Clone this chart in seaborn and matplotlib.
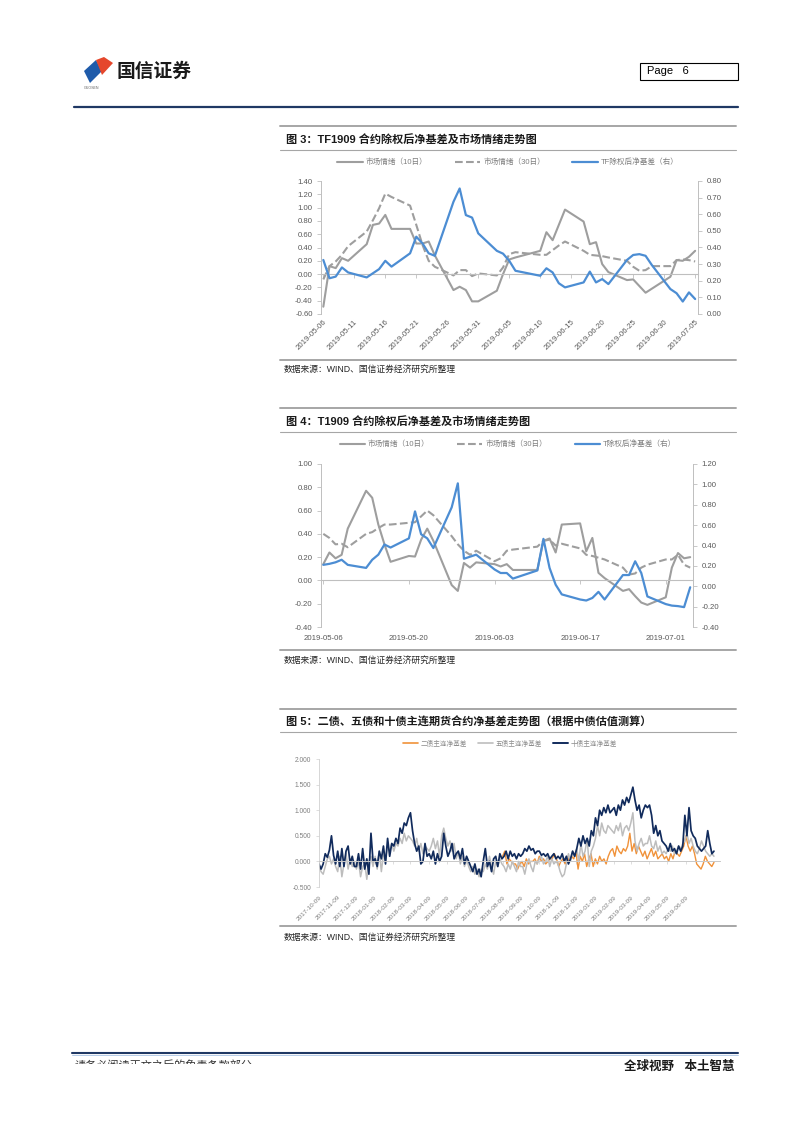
import numpy as np
import pandas as pd
import matplotlib
matplotlib.use("Agg")
import matplotlib.pyplot as plt
import matplotlib.dates as mdates
from matplotlib.lines import Line2D
from matplotlib.patches import Polygon, Rectangle
from matplotlib.ticker import FormatStrFormatter
from matplotlib.transforms import Bbox
import seaborn as sns


# ═══════════════════════════════════════════════════════════════════════
# Data
# ═══════════════════════════════════════════════════════════════════════

trade_dates = [
    "2019-05-06", "2019-05-07", "2019-05-08", "2019-05-09", "2019-05-10",
    "2019-05-13", "2019-05-14", "2019-05-15", "2019-05-16", "2019-05-17",
    "2019-05-20", "2019-05-21", "2019-05-22", "2019-05-23", "2019-05-24",
    "2019-05-27", "2019-05-28", "2019-05-29", "2019-05-30", "2019-05-31",
    "2019-06-03", "2019-06-04", "2019-06-05", "2019-06-06",
    "2019-06-10", "2019-06-11", "2019-06-12", "2019-06-13", "2019-06-14",
    "2019-06-17", "2019-06-18", "2019-06-19", "2019-06-20", "2019-06-21",
    "2019-06-24", "2019-06-25", "2019-06-26", "2019-06-27", "2019-06-28",
    "2019-07-01", "2019-07-02", "2019-07-03", "2019-07-04", "2019-07-05",
]

# Fig 3: TF1909
tf_mood10 = [
    -0.49, 0.12, 0.09, 0.24, 0.20,
    0.45, 0.74, 0.76, 0.89, 0.68,
    0.68, 0.46, 0.46, 0.49, 0.28,
    -0.24, -0.19, -0.24, -0.41, -0.41,
    -0.25, 0.00, 0.22, 0.25,
    0.35, 0.63, 0.51, 0.74, 0.97,
    0.79, 0.45, 0.48, 0.15, 0.03,
    -0.09, -0.08, -0.18, -0.28, -0.22,
    -0.04, 0.21, 0.20, 0.26, 0.35,
]
tf_mood30 = [
    -0.08, 0.12, 0.19, 0.29, 0.42,
    0.64, 0.81, 0.99, 1.21, 1.16,
    1.03, 0.74, 0.44, 0.20, 0.11,
    -0.02, 0.06, 0.06, -0.03, 0.01,
    -0.02, 0.10, 0.30, 0.33,
    0.29, 0.29, 0.36, 0.43, 0.49,
    0.35, 0.29, 0.28, 0.27, 0.25,
    0.20, 0.11, 0.05, 0.06, 0.12,
    0.12, 0.21, 0.22, 0.21, 0.19,
]
tf_basis = [
    0.325, 0.215, 0.225, 0.28, 0.25,
    0.22, 0.245, 0.27, 0.32, 0.285,
    0.365, 0.465, 0.425, 0.365, 0.35,
    0.675, 0.755, 0.595, 0.58, 0.485,
    0.38, 0.363, 0.32, 0.26,
    0.23, 0.275, 0.25, 0.185, 0.16,
    0.19, 0.255, 0.19, 0.21, 0.18,
    0.325, 0.355, 0.36, 0.35, 0.295,
    0.15, 0.125, 0.075, 0.13, 0.09,
]

# Fig 4: T1909
t_mood10 = [
    0.14, 0.24, 0.19, 0.22, 0.445,
    0.77, 0.71, 0.48, 0.31, 0.16,
    0.21, 0.205, 0.35, 0.445, 0.34,
    -0.04, -0.09, 0.15, 0.11, 0.155,
    0.14, 0.12, 0.14, 0.09,
    0.09, 0.34, 0.36, 0.24, 0.48,
    0.49, 0.25, 0.365, 0.065, 0.02,
    -0.09, -0.075, -0.135, -0.19, -0.21,
    -0.145, 0.11, 0.235, 0.19, 0.20,
]
t_mood30 = [
    0.40, 0.365, 0.31, 0.315, 0.285,
    0.40, 0.415, 0.45, 0.48, 0.48,
    0.495, 0.50, 0.55, 0.60, 0.56,
    0.38, 0.31, 0.255, 0.22, 0.255,
    0.165, 0.19, 0.255, 0.265,
    0.29, 0.34, 0.35, 0.30, 0.315,
    0.275, 0.22, 0.21, 0.195, 0.18,
    0.11, 0.05, 0.06, 0.11, 0.135,
    0.18, 0.18, 0.22, 0.135, 0.11,
]
t_basis = [
    0.21, 0.22, 0.235, 0.26, 0.21,
    0.18, 0.26, 0.31, 0.41, 0.38,
    0.47, 0.735, 0.51, 0.47, 0.375,
    0.775, 1.01, 0.27, 0.29, 0.31,
    0.165, 0.13, 0.13, 0.075,
    0.155, 0.465, 0.18, 0.015, -0.08,
    -0.13, -0.14, -0.115, -0.055, -0.13,
    0.11, 0.11, 0.245, 0.13, -0.10,
    -0.175, -0.19, -0.195, -0.205, -0.01,
]

# Fig 5: main-contract net basis, roughly two readings a week
ten_year_basis = [
    -0.05, -0.15, -0.05, 0.15, 0.08, 0.22, 0.50, 0.12, -0.05,   # 2017-10
    0.20, -0.10, 0.25, -0.10, 0.20, 0.30, -0.05, 0.10, -0.10,   # 2017-11
    -0.10, 0.15, -0.15, 0.25, -0.15, 0.05, -0.25, 0.55, 0.00,   # 2017-12
    0.05, -0.10, 0.20, 0.05, 0.30, -0.05, 0.45, 0.10, 0.35,     # 2018-01
    0.30, 0.45, 0.35, 0.65, 0.55, 0.75, 0.70, 0.85, 0.95,       # 2018-02
    0.60, 0.35, 0.20, 0.30, -0.05, 0.00, 0.35, 0.10, 0.15,      # 2018-03
    0.05, 0.20, -0.05, 0.15, 0.00, 0.10, 0.55, 0.30, 0.10,      # 2018-04
    0.20, 0.35, 0.05, 0.15, 0.20, 0.05, 0.25, -0.05, 0.10,      # 2018-05
    0.00, -0.10, -0.20, -0.05, -0.25, -0.15, -0.30, 0.00,       # 2018-06
    0.25, -0.10, 0.00, -0.20, 0.05, 0.10, -0.10, 0.15, 0.05,    # 2018-07
    0.10, 0.20, 0.05, 0.20, 0.10, 0.15, 0.05, 0.15, 0.10,       # 2018-08
    0.15, 0.25, 0.20, 0.30, 0.22, 0.25, 0.15, 0.20,             # 2018-09
    0.20, 0.12, 0.15, 0.10, 0.15, 0.05, 0.10, 0.15, 0.05,       # 2018-10
    0.10, 0.05, 0.15, 0.00, 0.10, -0.05, 0.05, 0.20, 0.10,      # 2018-11
    0.25, 0.45, 0.30, 0.50, 0.35, 0.45, 0.30, 0.60, 0.50,       # 2018-12
    0.85, 0.70, 1.00, 0.90, 1.05, 0.95, 1.10, 0.95, 1.00,       # 2019-01
    1.05, 0.90, 1.10, 1.00, 1.20, 1.10, 1.25, 1.15,             # 2019-02
    1.30, 1.45, 1.20, 1.00, 1.10, 0.85, 1.00, 1.10,             # 2019-03
    1.05, 1.10, 0.90, 0.55, 0.70, 0.50, 0.60, 0.40, 0.35,       # 2019-04
    0.30, 0.20, 0.35, 0.20, 0.25, 0.15, 0.30, 0.20, 0.30,       # 2019-05
    0.90, 0.50, 1.05, 0.60, 0.50, 0.45, 0.30, 0.25,             # 2019-06
    0.20, 0.25, 0.30, 0.60, 0.35, 0.15, 0.20,                   # 2019-07
]
five_year_basis = [
    -0.10, -0.20, -0.25, -0.10, 0.05, 0.10, -0.05, 0.05, -0.10,  # 2017-10
    -0.20, 0.10, -0.30, -0.05, 0.15, -0.15, 0.05, -0.10, 0.00,   # 2017-11
    -0.15, 0.00, -0.30, -0.10, -0.05, -0.35, 0.00, 0.10, -0.10,  # 2017-12
    0.10, -0.15, 0.20, -0.20, 0.15, 0.05, 0.30, 0.20, 0.35,      # 2018-01
    0.20, 0.35, 0.30, 0.45, 0.35, 0.55, 0.40, 0.50, 0.45,        # 2018-02
    0.40, 0.30, 0.45, 0.20, 0.35, 0.15, 0.30, 0.25, 0.20,        # 2018-03
    0.30, 0.45, 0.25, 0.40, 0.10, 0.50, 0.65, 0.45, 0.30,        # 2018-04
    0.40, 0.20, 0.35, 0.05, 0.20, -0.05, 0.10, -0.10, 0.05,      # 2018-05
    -0.10, -0.20, -0.10, -0.25, -0.15, -0.30, -0.15, -0.20,      # 2018-06
    -0.05, -0.15, 0.10, -0.10, -0.25, 0.00, -0.10, 0.05, -0.05,  # 2018-07
    -0.10, -0.20, -0.05, -0.15, 0.00, -0.10, -0.20, 0.00, -0.10, # 2018-08
    -0.10, -0.25, -0.05, 0.05, -0.10, -0.20, 0.00, -0.05,        # 2018-09
    0.05, 0.10, -0.05, 0.00, 0.10, -0.10, 0.05, -0.05, 0.00,     # 2018-10
    -0.05, -0.20, -0.30, -0.25, -0.05, 0.15, 0.00, 0.20, 0.10,   # 2018-11
    0.25, 0.00, 0.35, 0.10, 0.20, 0.45, -0.10, 0.20, 0.30,       # 2018-12
    0.45, 0.70, 0.50, 0.75, 0.60, 0.55, 0.70, 0.65, 0.60,        # 2019-01
    0.55, 0.70, 0.60, 0.75, 0.50, 0.65, 0.70, 0.60,              # 2019-02
    0.75, 0.95, 0.40, 0.20, 0.35, 0.45, 0.30, 0.35,              # 2019-03
    0.35, 0.50, 0.30, 0.25, 0.40, 0.20, 0.30, 0.15, 0.20,        # 2019-04
    0.15, 0.25, 0.20, 0.30, 0.15, 0.20, 0.30, 0.25, 0.35,        # 2019-05
    0.40, 0.55, 0.35, 0.45, 0.30, 0.20, 0.15, 0.25,              # 2019-06
    0.40, 0.30, 0.20, 0.15, 0.10, 0.15, 0.10,                    # 2019-07
]
two_year_basis = [
    0.10, 0.20, -0.05, 0.05, 0.00, -0.05,                        # 2018-08
    -0.05, -0.15, -0.05, 0.00, -0.10, 0.05, -0.05, 0.00,         # 2018-09
    0.00, 0.05, -0.05, 0.10, 0.00, 0.05, -0.05, 0.00, 0.05,      # 2018-10
    0.05, 0.15, 0.05, -0.10, 0.00, 0.05, -0.05, 0.10, 0.00,      # 2018-11
    0.10, 0.05, 0.20, -0.15, 0.10, 0.00, 0.15, -0.10, 0.05,      # 2018-12
    0.15, -0.10, 0.05, -0.05, 0.10, 0.00, 0.05, -0.05, 0.10,     # 2019-01
    0.20, 0.25, 0.10, 0.30, 0.20, 0.15, 0.25, 0.20,              # 2019-02
    0.30, 0.55, 0.20, 0.35, 0.15, 0.30, 0.20, 0.10,              # 2019-03
    0.20, 0.05, 0.15, 0.25, 0.10, 0.20, 0.05, 0.10, 0.15,        # 2019-04
    0.05, 0.10, 0.00, 0.15, 0.05, 0.20, 0.15, 0.10, 0.20,        # 2019-05
    0.30, 0.50, 0.30, 0.20, 0.30, 0.15, -0.05, -0.10,            # 2019-06
    -0.15, -0.05, 0.10, 0.00, -0.05, -0.10, -0.02,               # 2019-07
]

labels3 = ["市场情绪（10日）", "市场情绪（30日）", "TF除权后净基差（右）"]
labels4 = ["市场情绪（10日）", "市场情绪（30日）", "T除权后净基差（右）"]
labels5 = ["二债主连净基差", "五债主连净基差", "十债主连净基差"]

title3 = "图 3：TF1909 合约除权后净基差及市场情绪走势图"
title4 = "图 4：T1909 合约除权后净基差及市场情绪走势图"
title5 = "图 5：二债、五债和十债主连期货合约净基差走势图（根据中债估值测算）"
source = "数据来源：WIND、国信证券经济研究所整理"


# ═══════════════════════════════════════════════════════════════════════
# Style
# ═══════════════════════════════════════════════════════════════════════

sns.set_style("white")
plt.rcParams["font.family"] = ["Liberation Sans", "Noto Sans CJK SC"]
plt.rcParams["axes.unicode_minus"] = False

GRAY = "#9E9E9E"
BLUE = "#4C8DD3"
ORANGE = "#F0923A"
LGRAY = "#BDBDBD"
NAVY = "#112B5C"
SPINE = "#BFBFBF"
TICK_TXT = "#595959"
RULE = "#A6A6A6"

W, H = 802, 1133


def fx(x):
    return x / W


def fy(y):
    return 1 - y / H


def rect(left, top, right, bottom):
    return [left / W, 1 - bottom / H, (right - left) / W, (bottom - top) / H]


def hline(fig, y, x0, x1, color, lw):
    fig.add_artist(Line2D([fx(x0), fx(x1)], [fy(y), fy(y)],
                          transform=fig.transFigure, color=color, lw=lw))


def chart_frame(fig, top, title_y, rule_y, bottom, source_y, title):
    hline(fig, top, 280, 736, RULE, 1.4)
    fig.text(fx(286), fy(title_y), title, fontsize=8, fontweight="bold",
             va="center", color="#1A1A1A")
    hline(fig, rule_y, 280, 736, RULE, 0.8)
    hline(fig, bottom, 280, 736, RULE, 1.4)
    fig.text(fx(284), fy(source_y), source, fontsize=6.3, va="center",
             color="#262626")


def style_dual(ax, axr, xpad):
    for s in ["top", "right"]:
        ax.spines[s].set_visible(False)
    ax.spines["left"].set_color(SPINE)
    ax.spines["left"].set_linewidth(0.7)
    ax.spines["bottom"].set_position(("data", 0))
    ax.spines["bottom"].set_color(SPINE)
    ax.spines["bottom"].set_linewidth(0.8)
    for s in ["top", "left", "bottom"]:
        axr.spines[s].set_visible(False)
    axr.spines["right"].set_color(SPINE)
    axr.spines["right"].set_linewidth(0.7)
    ax.tick_params(axis="y", direction="out", length=3, width=0.6, color=SPINE,
                   labelsize=5.6, labelcolor=TICK_TXT, pad=3, left=True)
    axr.tick_params(axis="y", direction="out", length=3, width=0.6, color=SPINE,
                    labelsize=5.6, labelcolor=TICK_TXT, pad=3, right=True)
    ax.tick_params(axis="x", direction="out", length=3, width=0.6, color=SPINE,
                   labelsize=5.6, labelcolor=TICK_TXT, pad=xpad, bottom=True)
    ax.yaxis.set_major_formatter(FormatStrFormatter("%.2f"))
    axr.yaxis.set_major_formatter(FormatStrFormatter("%.2f"))
    ax.xaxis.set_major_formatter(mdates.DateFormatter("%Y-%m-%d"))
    ax.set(xlabel="", ylabel="")
    axr.set(xlabel="", ylabel="")
    ax.grid(False)
    axr.grid(False)


def dual_chart(fig, box, mood10, mood30, basis, ylim_l, ylim_r, ticks, xpad):
    dates = pd.to_datetime(trade_dates)
    ax = fig.add_axes(rect(*box))
    ax.patch.set_alpha(0)
    sns.lineplot(x=dates, y=mood10, ax=ax, color=GRAY, lw=1.5)
    sns.lineplot(x=dates, y=mood30, ax=ax, color=GRAY, lw=1.5, linestyle="--")
    axr = ax.twinx()
    sns.lineplot(x=dates, y=basis, ax=axr, color=BLUE, lw=1.6)
    ax.set_ylim(ylim_l[0], ylim_l[1])
    ax.set_yticks(np.round(np.arange(ylim_l[0], ylim_l[1] + 0.01, 0.2), 2))
    axr.set_ylim(ylim_r[0], ylim_r[1])
    axr.set_yticks(np.round(np.arange(ylim_r[0], ylim_r[1] + 0.01, ylim_r[2]), 2))
    ax.set_xlim(pd.Timestamp("2019-05-06") - pd.Timedelta(hours=9),
                pd.Timestamp("2019-07-05") + pd.Timedelta(hours=11))
    ax.set_xticks(ticks)
    style_dual(ax, axr, xpad)
    return ax, axr


def dual_legend(fig, labels, y):
    handles = [Line2D([], [], color=GRAY, lw=1.5),
               Line2D([], [], color=GRAY, lw=1.5, ls="--"),
               Line2D([], [], color=BLUE, lw=1.6)]
    fig.legend(handles, labels, loc="center", bbox_to_anchor=(fx(508), fy(y)),
               ncol=3, frameon=False, fontsize=5.5, handlelength=3.3,
               handletextpad=0.4, columnspacing=3.6, labelcolor="#7F7F7F")


fig = plt.figure(figsize=(W / 100, H / 100), dpi=100)

# ═══════════════════════════════════════════════════════════════════════
# Page header
# ═══════════════════════════════════════════════════════════════════════

blue_logo = [(84, 71), (96, 60), (102, 71), (90, 83)]
red_logo = [(96, 60), (104, 57), (113, 63), (102, 75)]
fig.add_artist(Polygon([(fx(x), fy(y)) for x, y in blue_logo], closed=True,
                       transform=fig.transFigure, color="#1F5BAA", lw=0))
fig.add_artist(Polygon([(fx(x), fy(y)) for x, y in red_logo], closed=True,
                       transform=fig.transFigure, color="#E5472C", lw=0))
fig.text(fx(84), fy(88), "GUOSEN", fontsize=2.6, color="#666666", va="center")
fig.text(fx(117), fy(72), "国信证券", fontsize=13.5, fontweight="bold",
         color="#1A1A1A", va="center")

fig.add_artist(Rectangle((fx(640), fy(80)), (738 - 640) / W, 17 / H,
                         transform=fig.transFigure, fill=False,
                         edgecolor="black", lw=0.8))
fig.text(fx(647), fy(71.5), "Page   6", fontsize=8, va="center", color="black")
hline(fig, 107, 74, 738, "#1F3864", 1.6)

# ═══════════════════════════════════════════════════════════════════════
# Fig 3
# ═══════════════════════════════════════════════════════════════════════

chart_frame(fig, 126, 139.5, 149.5, 360, 369, title3)
ticks3 = pd.date_range("2019-05-06", "2019-07-05", freq="5D")
ax3, ax3r = dual_chart(fig, (321, 181, 698, 314), tf_mood10, tf_mood30, tf_basis,
                       (-0.6, 1.4), (0.0, 0.8, 0.1), ticks3, 29)
for lab in ax3.get_xticklabels():
    lab.set_rotation(45)
    lab.set_ha("right")
    lab.set_rotation_mode("anchor")
dual_legend(fig, labels3, 162.5)

# ═══════════════════════════════════════════════════════════════════════
# Fig 4
# ═══════════════════════════════════════════════════════════════════════

chart_frame(fig, 408, 421.5, 431.5, 650, 660, title4)
ticks4 = pd.date_range("2019-05-06", "2019-07-05", freq="14D")
ax4, ax4r = dual_chart(fig, (321, 464, 693, 627), t_mood10, t_mood30, t_basis,
                       (-0.4, 1.0), (-0.4, 1.2, 0.2), ticks4, 36)
dual_legend(fig, labels4, 444.5)

# ═══════════════════════════════════════════════════════════════════════
# Fig 5
# ═══════════════════════════════════════════════════════════════════════

chart_frame(fig, 709, 722, 732, 926, 937, title5)
ax5 = fig.add_axes(rect(319, 759, 720, 887))
ax5.patch.set_alpha(0)
d_two = pd.date_range("2018-08-09", "2019-07-25", periods=len(two_year_basis))
d_five = pd.date_range("2017-10-09", "2019-07-25", periods=len(five_year_basis))
d_ten = pd.date_range("2017-10-09", "2019-07-25", periods=len(ten_year_basis))
sns.lineplot(x=d_two, y=two_year_basis, ax=ax5, color=ORANGE, lw=1.0)
sns.lineplot(x=d_five, y=five_year_basis, ax=ax5, color=LGRAY, lw=1.1)
sns.lineplot(x=d_ten, y=ten_year_basis, ax=ax5, color=NAVY, lw=1.25)
ax5.set_ylim(-0.5, 2.0)
ax5.set_yticks([-0.5, 0.0, 0.5, 1.0, 1.5, 2.0])
ax5.set_xlim(pd.Timestamp("2017-10-09"), pd.Timestamp("2019-08-04"))
ax5.set_xticks(pd.date_range("2017-10-09", periods=21, freq=pd.DateOffset(months=1)))
ax5.xaxis.set_major_formatter(mdates.DateFormatter("%Y-%m-%d"))
ax5.yaxis.set_major_formatter(FormatStrFormatter("%.3f"))
for s in ["top", "right"]:
    ax5.spines[s].set_visible(False)
ax5.spines["left"].set_color("#D0D0D0")
ax5.spines["left"].set_linewidth(0.6)
ax5.spines["bottom"].set_position(("data", 0))
ax5.spines["bottom"].set_color("#C8C8C8")
ax5.spines["bottom"].set_linewidth(0.7)
ax5.tick_params(axis="y", direction="out", length=2.5, width=0.5, color="#D0D0D0",
                labelsize=4.8, labelcolor="#7F7F7F", pad=3, left=True)
ax5.tick_params(axis="x", direction="out", length=2, width=0.5, color="#D0D0D0",
                labelsize=4.6, labelcolor="#7F7F7F", pad=22, bottom=True)
for lab in ax5.get_xticklabels():
    lab.set_rotation(45)
    lab.set_ha("right")
    lab.set_rotation_mode("anchor")
ax5.set(xlabel="", ylabel="")
ax5.grid(False)
h5 = [Line2D([], [], color=ORANGE, lw=1.2),
      Line2D([], [], color=LGRAY, lw=1.2),
      Line2D([], [], color=NAVY, lw=1.4)]
fig.legend(h5, labels5, loc="center", bbox_to_anchor=(fx(510), fy(744)),
           ncol=3, frameon=False, fontsize=4.8, handlelength=2.3,
           handletextpad=0.4, columnspacing=1.6, labelcolor="#8C8C8C")

# ═══════════════════════════════════════════════════════════════════════
# Footer
# ═══════════════════════════════════════════════════════════════════════

hline(fig, 1053, 72, 738, "#1F3864", 1.5)
hline(fig, 1055, 72, 738, "#A9C4E4", 0.6)
disc = fig.text(fx(75), fy(1060), "请务必阅读正文之后的免责条款部分", fontsize=8,
                va="top", color="#333333")
disc.set_clip_box(Bbox.from_extents(0, H - 1064, W, H - 1056))
disc.set_clip_on(True)
fig.text(fx(735), fy(1067), "全球视野   本土智慧", fontsize=9, fontweight="bold",
         ha="right", va="center", color="#1A1A1A")

fig.savefig("out.png", dpi=100)
